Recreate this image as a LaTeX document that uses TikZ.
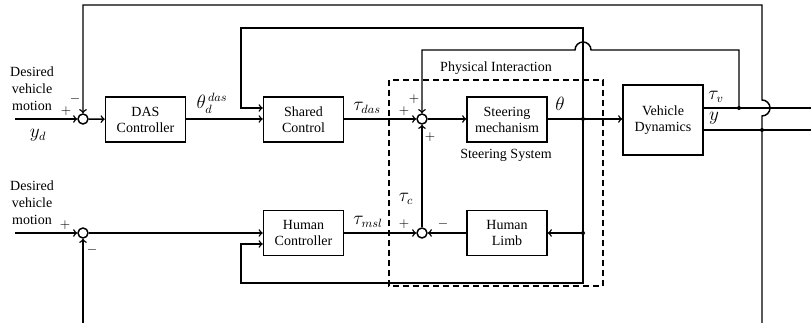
\documentclass[tikz,border=0pt]{standalone}
\usepackage{fontspec}
\setmainfont{Liberation Serif}
\usepackage{amsmath}
\usetikzlibrary{positioning,arrows}

\begin{document}
\begin{tikzpicture}[x=0.75pt,y=-0.75pt,line width=1.1pt,>=to]
\tikzstyle{block}=[draw,fill=white,minimum width=60pt,minimum height=34pt,align=center,inner sep=1pt,font=\fontsize{10.5}{12}\selectfont]
\tikzstyle{sumnode}=[draw,circle,fill=white,minimum size=7.5pt,inner sep=0pt]
\tikzstyle{jdot}=[circle,fill,inner sep=0pt,minimum size=3pt]
\tikzstyle{sgn}=[inner sep=0pt,font=\fontsize{10}{10}\selectfont]
\tikzstyle{sig}=[inner sep=0pt,font=\fontsize{13.5}{14}\selectfont]
\tikzstyle{txt}=[inner sep=0pt,align=center,font=\fontsize{10.5}{12.75}\selectfont]

\useasboundingbox (0,0) rectangle (811,323);

% steering system frame
\draw [dash pattern=on 4.5pt off 3pt] (389,80) rectangle (603,286);
\node [txt] (phys) at (496,68) {Physical Interaction};
\node [txt] (steersys) at (506,155) {Steering System};

% summing points
\node [sumnode] (s1) at (83,119) {};
\node [sumnode] (s2) at (422,119) {};
\node [sumnode] (s3) at (83,233) {};
\node [sumnode] (s4) at (422,233) {};

% blocks
\node [block] (das) at (145.5,119.5) {DAS\\Controller};
\node [block] (shared) at (303.5,119.5) {Shared\\Control};
\node [block] (steer) at (507,119.5) {Steering\\mechanism};
\node [block,minimum height=52.5pt] (vd) at (663,120) {Vehicle\\Dynamics};
\node [block] (human) at (303.5,233) {Human\\Controller};
\node [block] (limb) at (507,233) {Human\\Limb};

% inputs and outputs
\coordinate (in1) at (15,119);
\coordinate (in2) at (15,233);
\coordinate (outv) at (811,108);
\coordinate (outy) at (811,130);
\node [txt] (des1) at (32,89) {Desired\\vehicle\\motion};
\node [txt] (des2) at (32,203) {Desired\\vehicle\\motion};

% branch points
\coordinate (jt) at (583,119);
\coordinate (jl) at (583,233);
\coordinate (jv) at (739,108);
\coordinate (jy) at (762,130);
\coordinate (fbtop) at (762,5);
\coordinate (fbbot) at (762,323);
\coordinate (fb2) at (83,323);
\foreach \j in {jt,jl,jv,jy}
    \node [jdot] at (\j) {};

% forward path
\draw [->] (in1) -- (s1);
\draw [->] (s1) -- (das);
\draw [->] (das.east |- s1) -- (shared.west |- s1);
\draw [->] (shared.east |- s2) -- (s2);
\draw [->] (s2) -- (steer.west |- s2);
\draw (steer.east |- s2) -- (jt);
\draw [->] (jt) -- (vd.west |- jt);
\draw (vd.east |- jv) -- (outv);
\draw (vd.east |- jy) -- (outy);

\draw [->] (in2) -- (s3);
\draw [->] (s3) -- (human);
\draw [->] (human) -- (s4);
\draw [->] (limb) -- (s4);
\draw [->] (jl) -- (limb);
\draw [->] (s4) -- (s2);

% feedback loops
\draw [->] (fbbot) -- ++(0,-207) arc (90:-90:8) -- (fbtop) -- (fbtop -| s1) -- (s1);
\draw [->] (fb2) -- (s3);
\draw [->] (jv) -- (jv |- 0,50) -- (591,50) arc (0:-180:8) -- (s2 |- 0,50) -- (s2);
\draw [->] (jt) -- (jt |- 0,28) -- (241,28) -- (241,108) -- (shared.west |- 0,108);
\draw [->] (jt) -- (jt |- 0,283) -- (241,283) -- (241,244) -- (human.west |- 0,244);

% signs
\node [sgn] (p1) at (66,111) {$+$};
\node [sgn] (m1) at (75,99) {$-$};
\node [sgn] (p2) at (404,111) {$+$};
\node [sgn] (p3) at (414,99) {$+$};
\node [sgn] (p4) at (430,137) {$+$};
\node [sgn] (p5) at (65,225) {$+$};
\node [sgn] (m5) at (92,250) {$-$};
\node [sgn] (p6) at (404,224) {$+$};
\node [sgn] (m6) at (443,224) {$-$};

% signal names
\node [sig] (yd) at (38,135) {$y_d$};
\node [sig] (thd) at (212,103) {$\theta_d^{\,das}$};
\node [sig] (tdas) at (367,108) {$\tau_{das}$};
\node [sig] (th) at (560,104) {$\theta$};
\node [sig] (tv) at (716,97) {$\tau_v$};
\node [sig] (yy) at (714,118) {$y$};
\node [sig] (tc) at (406,199) {$\tau_c$};
\node [sig] (tmsl) at (368,222) {$\tau_{msl}$};
\end{tikzpicture}
\end{document}
